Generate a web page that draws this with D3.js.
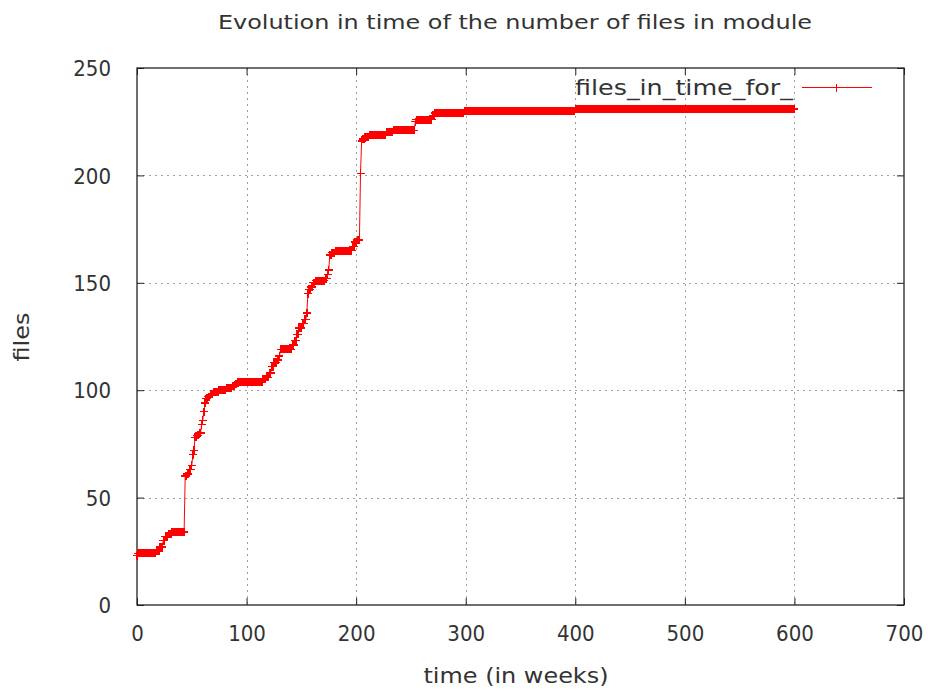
<!DOCTYPE html>
<html>
<head>
<meta charset="utf-8">
<script src="https://cdn.jsdelivr.net/npm/d3@7"></script>
<style>
  body { margin: 0; background: #fff; }
  text { font-family: "DejaVu Sans", sans-serif; font-stretch: condensed; fill: #333; }
</style>
</head>
<body>
<svg id="chart" width="928" height="691"></svg>
<script>
var xTicks = [0, 100, 200, 300, 400, 500, 600, 700];
var yTicks = [0, 50, 100, 150, 200, 250];

// week at which the count changes, and the number of files from that week on
var changeWeeks = [0, 1, 18, 21, 24, 26, 29, 32, 44, 46, 48, 50, 51, 52, 53, 55, 57, 59,
    60, 61, 62, 63, 65, 67, 70, 75, 82, 87, 90, 92, 115, 118, 121, 123, 125, 128, 130, 131,
    142, 144, 146, 148, 151, 153, 155, 156, 157, 159, 161, 163, 172, 174, 175, 176, 178, 181,
    197, 199, 201, 204, 205, 206, 208, 212, 228, 234, 254, 255, 270, 272, 299, 400];
var changeFiles = [23, 24, 25, 27, 30, 32, 33, 34, 60, 61, 63, 65, 70, 72, 78, 79, 80, 84,
    86, 90, 94, 96, 97, 98, 99, 100, 101, 102, 103, 104, 105, 106, 108, 111, 113, 114, 116, 119,
    121, 123, 126, 129, 131, 133, 136, 145, 147, 148, 150, 151, 152, 154, 156, 163, 164, 165,
    167, 169, 170, 201, 216, 217, 218, 219, 220, 221, 225, 226, 228, 229, 230, 231];
var lastWeek = 600;

var seriesName = "files_in_time_for_";
var titleText = "Evolution in time of the number of files in module";

var margin = { top: 68, right: 24, bottom: 86, left: 137 };
var width = 928 - margin.left - margin.right;
var height = 691 - margin.top - margin.bottom;

// one sample per week, holding the last count seen
var points = [];
var k = 0;
for (var w = 0; w <= lastWeek; w++) {
    while (k + 1 < changeWeeks.length && changeWeeks[k + 1] <= w) k++;
    points.push({ week: w, files: changeFiles[k] });
}

var svg = d3.select("#chart");
var g = svg.append("g").attr("transform", "translate(" + margin.left + "," + margin.top + ")");

var x = d3.scaleLinear().domain([0, 700]).range([0, width]);
var y = d3.scaleLinear().domain([0, 250]).range([height, 0]);

// grid
g.append("g").selectAll("line")
    .data(xTicks.slice(1, -1))
  .enter().append("line")
    .attr("x1", function(d) { return Math.round(x(d)) + 0.5; })
    .attr("x2", function(d) { return Math.round(x(d)) + 0.5; })
    .attr("y1", 0).attr("y2", height)
    .attr("stroke", "#a0a0a0").attr("stroke-dasharray", "2,4");
g.append("g").selectAll("line")
    .data(yTicks.slice(1, -1))
  .enter().append("line")
    .attr("y1", function(d) { return Math.round(y(d)) + 0.5; })
    .attr("y2", function(d) { return Math.round(y(d)) + 0.5; })
    .attr("x1", 0).attr("x2", width)
    .attr("stroke", "#a0a0a0").attr("stroke-dasharray", "2,4");

// axes, ticks pointing inward on all four sides
var xAxis = d3.axisBottom(x).tickValues(xTicks).tickSizeInner(-7).tickSizeOuter(0).tickPadding(20);
var yAxis = d3.axisLeft(y).tickValues(yTicks).tickSizeInner(-7).tickSizeOuter(0).tickPadding(26);

var gx = g.append("g").attr("transform", "translate(0," + height + ")").call(xAxis);
var gy = g.append("g").call(yAxis);
g.append("g").call(d3.axisTop(x).tickValues(xTicks).tickSizeInner(-7).tickSizeOuter(0).tickFormat(""));
g.append("g").attr("transform", "translate(" + width + ",0)")
    .call(d3.axisRight(y).tickValues(yTicks).tickSizeInner(-7).tickSizeOuter(0).tickFormat(""));

g.selectAll(".domain").remove();
g.selectAll(".tick line").attr("stroke", "#222");
gx.selectAll("text").attr("font-size", 22).attr("fill", "#333").attr("font-family", null);
gy.selectAll("text").attr("font-size", 22).attr("fill", "#333").attr("font-family", null).attr("dy", "0.35em");

g.append("rect")
    .attr("x", 0).attr("y", 0).attr("width", width).attr("height", height)
    .attr("fill", "none").attr("stroke", "#222").attr("stroke-width", 1.3);

// series
var line = d3.line()
    .x(function(d) { return x(d.week); })
    .y(function(d) { return y(d.files); });

g.append("path")
    .datum(points)
    .attr("fill", "none")
    .attr("stroke", "#ff0000")
    .attr("stroke-width", 1)
    .attr("d", line);

var plus = "M-4,0H4M0,-4V4";
g.append("g")
    .attr("shape-rendering", "crispEdges")
  .selectAll("path")
    .data(points)
  .enter().append("path")
    .attr("transform", function(d) { return "translate(" + x(d.week) + "," + y(d.files) + ")"; })
    .attr("d", plus)
    .attr("stroke", "#ff0000")
    .attr("stroke-width", 1.4);

// legend
var legend = svg.append("g").attr("transform", "translate(0,87)");
legend.append("text")
    .attr("x", 793).attr("y", 0).attr("dy", "0.35em")
    .attr("text-anchor", "end")
    .attr("font-size", 22)
    .attr("textLength", 218).attr("lengthAdjust", "spacingAndGlyphs")
    .text(seriesName);
legend.append("line")
    .attr("x1", 802).attr("x2", 872).attr("y1", 0.5).attr("y2", 0.5)
    .attr("stroke", "#ff0000");
legend.append("path")
    .attr("transform", "translate(836,0.5)")
    .attr("d", plus)
    .attr("stroke", "#ff0000")
    .attr("shape-rendering", "crispEdges");

// titles
svg.append("text")
    .attr("x", 515).attr("y", 29)
    .attr("text-anchor", "middle")
    .attr("font-size", 20)
    .attr("textLength", 594).attr("lengthAdjust", "spacingAndGlyphs")
    .text(titleText);
svg.append("text")
    .attr("x", 516).attr("y", 683)
    .attr("text-anchor", "middle")
    .attr("font-size", 22)
    .attr("textLength", 185).attr("lengthAdjust", "spacingAndGlyphs")
    .text("time (in weeks)");
svg.append("text")
    .attr("transform", "translate(29,337) rotate(-90)")
    .attr("text-anchor", "middle")
    .attr("font-size", 22)
    .attr("textLength", 49).attr("lengthAdjust", "spacingAndGlyphs")
    .text("files");
</script>
</body>
</html>
